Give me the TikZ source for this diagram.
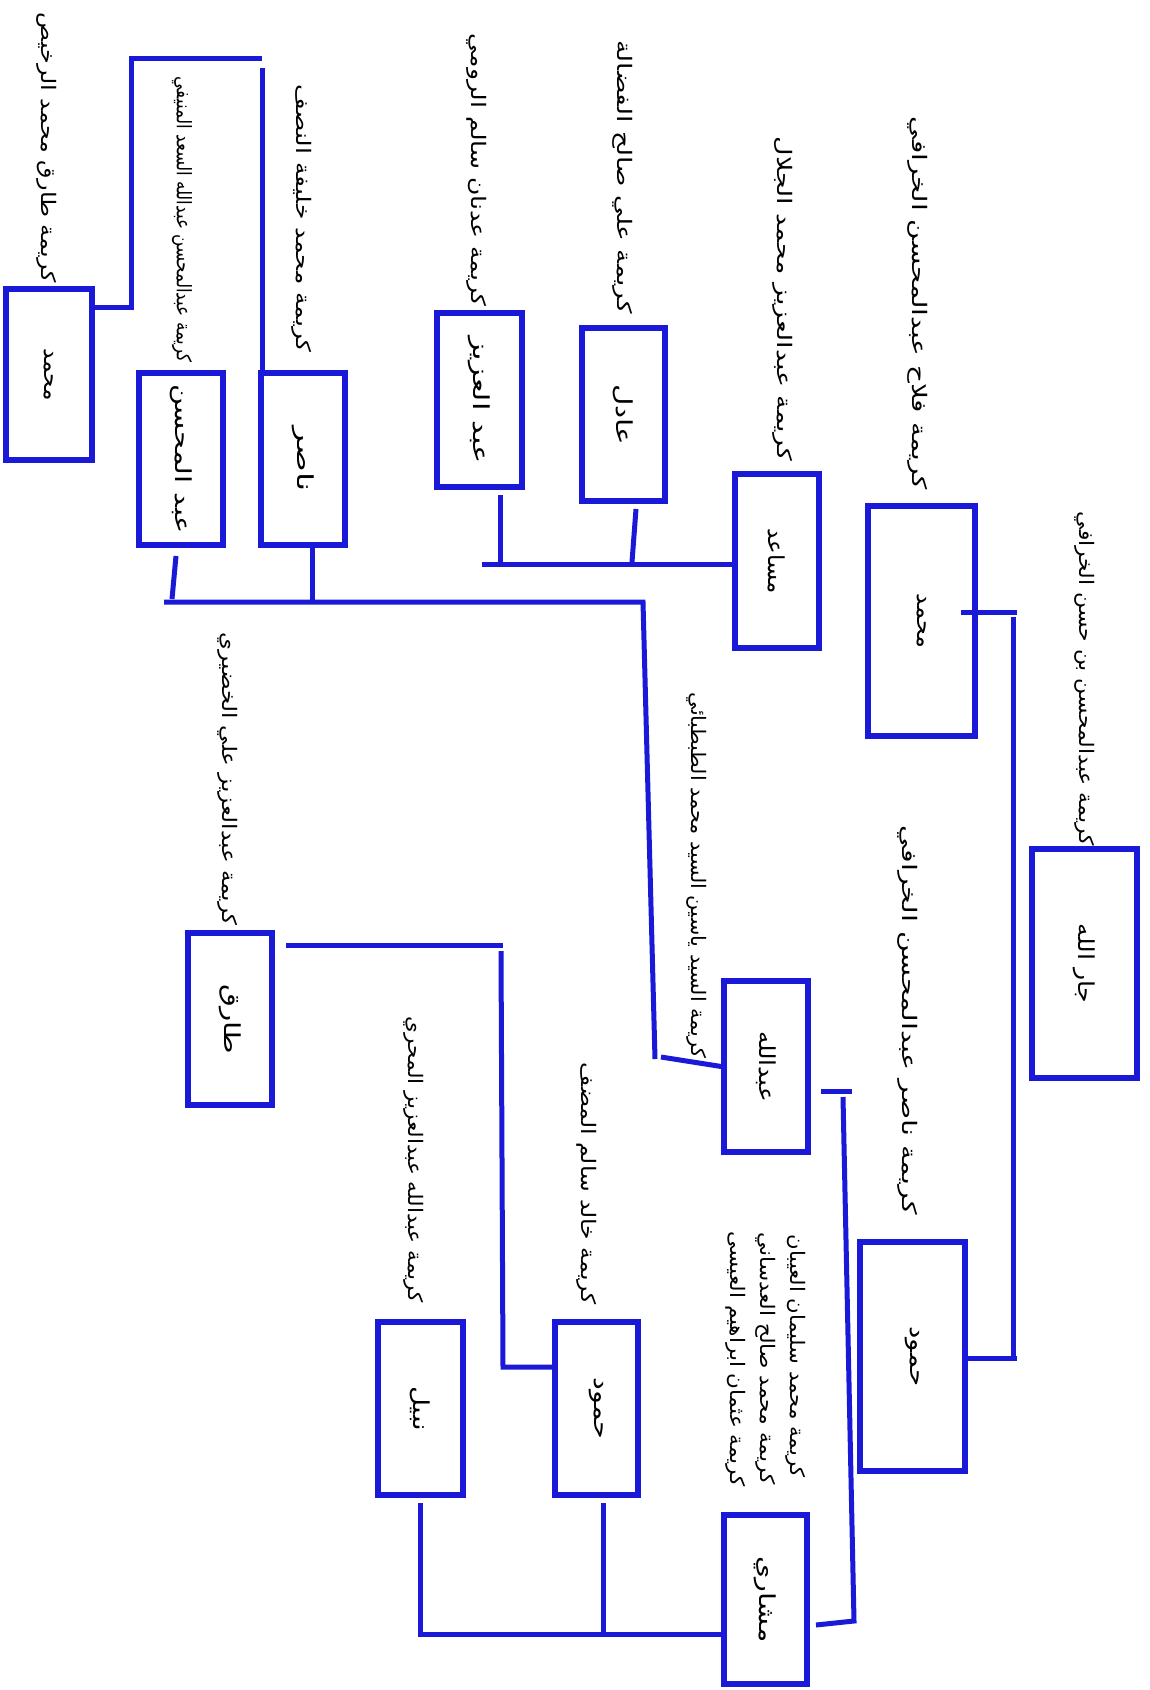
\documentclass[tikz,border=0pt]{standalone}
\usepackage{fontspec}
\usepackage{graphicx}
\TeXXeTstate=1
\newfontfamily\arabicfont[Script=Arabic]{DejaVu Sans}
\definecolor{lineblue}{RGB}{25,25,215}
\newcommand\arlab[2]{\resizebox{#1pt}{\height}{\arabicfont\fontsize{20}{24}\selectfont #2}}
\newcommand\arname[2]{\rotatebox{-90}{\resizebox{#1pt}{\height}{\arabicfont\fontsize{22}{26}\selectfont #2}}}
\tikzset{
  famline/.style={draw=lineblue, line width=5pt, line join=miter},
  person/.style={draw=lineblue, line width=5.5pt, fill=white, inner sep=0pt},
  wife/.style={rotate=-90, anchor=east, inner sep=0pt, text=black},
}
\begin{document}
\begin{tikzpicture}[x=1pt,y=-1pt]
\fill[white] (0,0) rectangle (1150,1690);
\useasboundingbox (0,0) rectangle (1150,1690);

% boxes
\node[person, minimum width=86pt, minimum height=171pt] (A) at (49,374.5) {\arname{53}{\beginR محمد\endR}};
\node[person, minimum width=84pt, minimum height=172pt] (B) at (181,459) {\arname{150}{\beginR عبد المحسن\endR}};
\node[person, minimum width=84pt, minimum height=172pt] (C) at (303,459) {\arname{65}{\beginR ناصر\endR}};
\node[person, minimum width=85pt, minimum height=174pt] (D) at (479.5,400) {\arname{128}{\beginR عبد العزيز\endR}};
\node[person, minimum width=83pt, minimum height=173pt] (E) at (623.5,414.5) {\arname{61}{\beginR عادل\endR}};
\node[person, minimum width=84pt, minimum height=174pt] (F) at (777,561) {\arname{65}{\beginR مساعد\endR}};
\node[person, minimum width=107pt, minimum height=230pt] (G) at (921.5,621) {\arname{55}{\beginR محمد\endR}};
\node[person, minimum width=105pt, minimum height=229pt] (H) at (1084.5,963.5) {\arname{80}{\beginR جار الله\endR}};
\node[person, minimum width=105pt, minimum height=229pt] (I) at (912.5,1356.5) {\arname{60}{\beginR حمود\endR}};
\node[person, minimum width=84pt, minimum height=171pt] (J) at (766,1066.5) {\arname{71}{\beginR عبدالله\endR}};
\node[person, minimum width=83pt, minimum height=169pt] (L) at (765.5,1599.5) {\arname{86}{\beginR مشاري\endR}};
\node[person, minimum width=83pt, minimum height=173pt] (N) at (596.5,1408.5) {\arname{62}{\beginR حمود\endR}};
\node[person, minimum width=85pt, minimum height=173pt] (O) at (420.5,1408.5) {\arname{45}{\beginR نبيل\endR}};
\node[person, minimum width=84pt, minimum height=172pt] (P) at (230,1019) {\arname{70}{\beginR طارق\endR}};

% wives
\node[wife] (la) at (47,283) {\arlab{270}{\beginR كريمة طارق محمد الرخيص\endR}};
\node[wife] (lb) at (182,363) {\arlab{286}{\beginR كريمة عبدالمحسن عبدالله السعد المنيفي\endR}};
\node[wife] (lc) at (302,353) {\arlab{268}{\beginR كريمة محمد خليفة النصف\endR}};
\node[wife] (ld) at (477,307) {\arlab{273}{\beginR كريمة عدنان سالم الرومي\endR}};
\node[wife] (le) at (623,314) {\arlab{273}{\beginR كريمة علي صالح الفضالة\endR}};
\node[wife] (lf) at (783,461) {\arlab{324}{\beginR كريمة عبدالعزيز محمد الجلال\endR}};
\node[wife] (lg) at (918,490) {\arlab{373}{\beginR كريمة فلاح  عبدالمحسن الخرافي\endR}};
\node[wife] (lh) at (1085,846) {\arlab{334}{\beginR كريمة عبدالمحسن بن حسن الخرافي\endR}};
\node[wife] (lj) at (908,1215) {\arlab{389}{\beginR كريمة ناصر  عبدالمحسن الخرافي\endR}};
\node[wife] (lk) at (697,1059) {\arlab{366}{\beginR كريمة السيد ياسين السيد محمد الطبطبائي\endR}};
\node[wife] (lp) at (228,926) {\arlab{293}{\beginR كريمة عبدالعزيز علي الخضيري\endR}};
\node[wife] (lo) at (414,1303) {\arlab{286}{\beginR كريمة عبدالله عبدالعزيز المحري\endR}};
\node[wife] (ln) at (587,1305) {\arlab{242}{\beginR كريمة خالد سالم المضف\endR}};
\node[wife] (lm1) at (796,1478) {\arlab{243}{\beginR كريمة محمد سليمان العيبان\endR}};
\node[wife] (lm2) at (766,1485) {\arlab{252}{\beginR كريمة محمد صالح العدساني\endR}};
\node[wife] (lm3) at (736,1487) {\arlab{255}{\beginR كريمة عثمان ابراهيم العيسى\endR}};

% connectors
% Mohammad (A) -- Nasser (C)
\coordinate (k1) at (131,307);
\coordinate (k2) at (131,58);
\coordinate (k3) at (262,58);
\coordinate (k4) at (262,68);
\draw[famline] (A.east |- k1) -- (k1) -- (k2) -- (k3);
\draw[famline] (k4) -- (k4 |- C.north);

% lower left bus
\coordinate (b2l) at (164,602);
\coordinate (b2r) at (643,602);
\coordinate (b2c) at (312,602);
\coordinate (k5) at (655,1059);
\coordinate (k6) at (661,1057);
\draw[famline] (b2l) -- (b2r) -- (k5);
\draw[famline] (k6) -- (J.west);
\draw[famline] (b2c |- C.south) -- (b2c);
\coordinate (k7) at (176,556);
\coordinate (k8) at (172,599);
\draw[famline] (k7) -- (k8);

% upper bus (Musaed)
\coordinate (b3l) at (482,564);
\coordinate (k9) at (500,495);
\draw[famline] (b3l) -- (b3l -| F.west);
\draw[famline] (k9) -- (k9 |- b3l);
\coordinate (k10) at (636,509);
\coordinate (k11) at (632,562);
\draw[famline] (k10) -- (k11);

% Mohammad (G) -- Hmoud (I)
\coordinate (k12) at (961,612);
\coordinate (k13) at (1017,612);
\coordinate (k14) at (1013,617);
\coordinate (k15) at (1013,1358);
\coordinate (k16) at (1017,1358);
\coordinate (k17) at (962,1358);
\draw[famline] (k12) -- (k13);
\draw[famline] (k14) -- (k15);
\draw[famline] (k16) -- (k17);

% Abdullah (J) -- Mishari (L)
\coordinate (k18) at (821,1091);
\coordinate (k19) at (852,1091);
\coordinate (k20) at (843,1097);
\coordinate (k21) at (854,1621);
\coordinate (k22) at (816,1625);
\draw[famline] (k18) -- (k19);
\draw[famline] (k20) -- (k21) -- (k22);

% Mishari bus
\coordinate (b6l) at (420,1634);
\coordinate (b6c) at (603,1634);
\draw[famline] (420,1503) -- (b6l) -- (b6l -| L.west);
\draw[famline] (603,1503) -- (b6c);

% Tareq (P) -- Hmoud (N)
\coordinate (k23) at (286,945);
\coordinate (k24) at (503,945);
\coordinate (k25) at (501,951);
\coordinate (k26) at (503,1367);
\draw[famline] (k23) -- (k24);
\draw[famline] (k25) -- (k26) -- (k26 -| N.west);
\end{tikzpicture}
\end{document}
